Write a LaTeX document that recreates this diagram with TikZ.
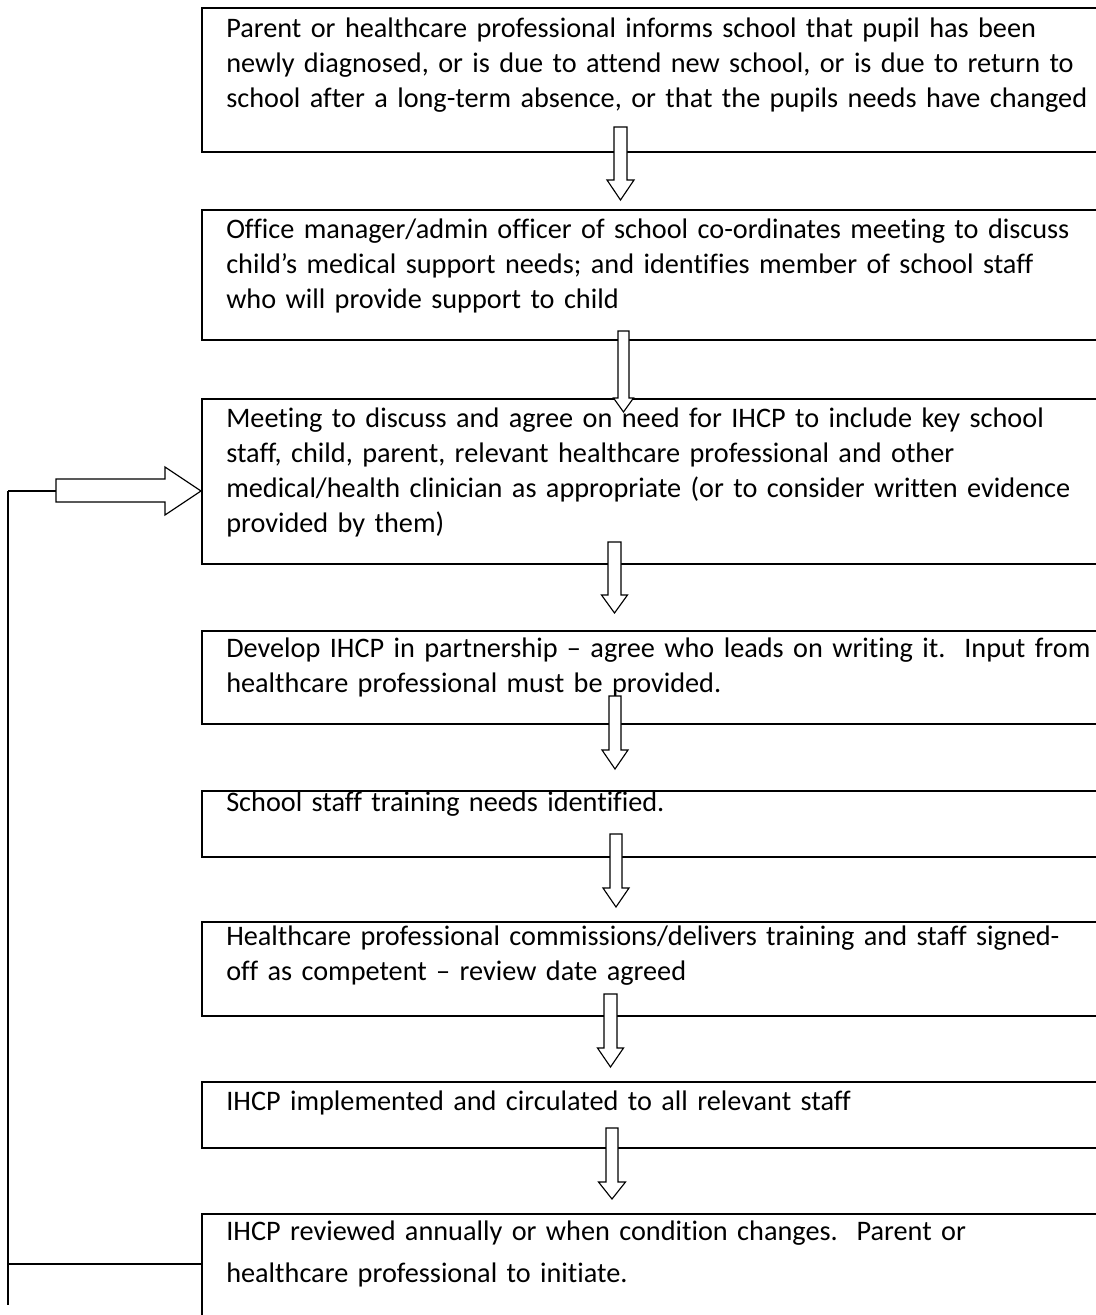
\documentclass[tikz,border=0pt]{standalone}
\usepackage{fontspec}
\setmainfont{Carlito}[Ligatures={NoCommon}]
\newcommand\blkdown[6]{% cx, top, headstart, tip, shaft half width, head half width
  \draw[blk] (#1-#5,#2) -- (#1+#5,#2) -- (#1+#5,#3) -- (#1+#6,#3) -- (#1,#4)
    -- (#1-#6,#3) -- (#1-#5,#3) -- cycle;}
\newcommand\mkbox[3]{% name, top, bottom
  \node[box,minimum height={(#3-#2)*0.75pt}] (#1) at (201,#2) {};}
\begin{document}
\begin{tikzpicture}[x=0.75pt,y=-0.75pt,
  box/.style={draw,line width=1.15pt,rectangle,anchor=north west,inner sep=0,minimum width=700pt},
  txt/.style={anchor=base west,inner sep=0,align=left,text width=680pt,
    font=\fontsize{21.2pt}{26.25pt}\selectfont},
  blk/.style={draw,fill=white,line width=0.85pt,line join=miter},
  conn/.style={draw,line width=0.85pt}]
\useasboundingbox (0,0) rectangle (1096,1315);
\clip (0,0) rectangle (1096,1315);

% boxes
\mkbox{b1}{7}{151}
\mkbox{b2}{209}{339}
\mkbox{b3}{398}{563}
\mkbox{b4}{630}{723}
\mkbox{b5}{790}{856}
\mkbox{b6}{921}{1015}
\mkbox{b7}{1081}{1147}
\mkbox{b8}{1213}{1400}

% texts
\node[txt] (t1) at (226,37) {Parent or healthcare professional informs school that pupil has been\\newly diagnosed, or is due to attend new school, or is due to return to\\school after a long-term absence, or that the pupils needs have changed};
\node[txt] (t2) at (226,238) {Office manager/admin officer of school co-ordinates meeting to discuss\\child’s medical support needs; and identifies member of school staff\\who will provide support to child};
\node[txt] (t3) at (226,427) {Meeting to discuss and agree on need for IHCP to include key school\\staff, child, parent, relevant healthcare professional and other\\medical/health clinician as appropriate (or to consider written evidence\\provided by them)};
\node[txt] (t4) at (226,657) {Develop IHCP in partnership – agree who leads on writing it.\ \ Input from\\healthcare professional must be provided.};
\node[txt] (t5) at (226,811) {School staff training needs identified.};
\node[txt] (t6) at (226,945) {Healthcare professional commissions/delivers training and staff signed-\\off as competent – review date agreed};
\node[txt] (t7) at (226,1110) {IHCP implemented and circulated to all relevant staff};
\node[txt] (t8) at (226,1240) {IHCP reviewed annually or when condition changes.\ \ Parent or\\[5.25pt]healthcare professional to initiate.};

% block arrows between boxes
\blkdown{620.5}{127}{180}{200}{6.5}{13.5}
\blkdown{623.5}{331}{398}{412}{5.5}{10}
\blkdown{614.5}{542}{595}{613}{6.5}{13}
\blkdown{615}{696}{750}{769}{6}{13}
\blkdown{616}{834}{888}{907}{6}{13}
\blkdown{610.5}{994}{1048}{1067}{6.5}{13}
\blkdown{612}{1128}{1182}{1199}{6}{13.5}

% feedback loop
\coordinate (fbtop) at (8,491);
\coordinate (fbbot) at (8,1305);
\coordinate (fbjoin) at (8,1264);
\coordinate (fbtail) at (56,491);
\draw[conn] (fbtop) -- (fbbot);
\draw[conn] (fbjoin) -- (b8.west |- fbjoin);
\draw[conn] (fbtop) -- (fbtail);
\draw[blk] (56,479) -- (165,479) -- (165,467) -- (b3.west |- fbtop) -- (165,515)
  -- (165,502) -- (56,502) -- cycle;
\end{tikzpicture}
\end{document}
